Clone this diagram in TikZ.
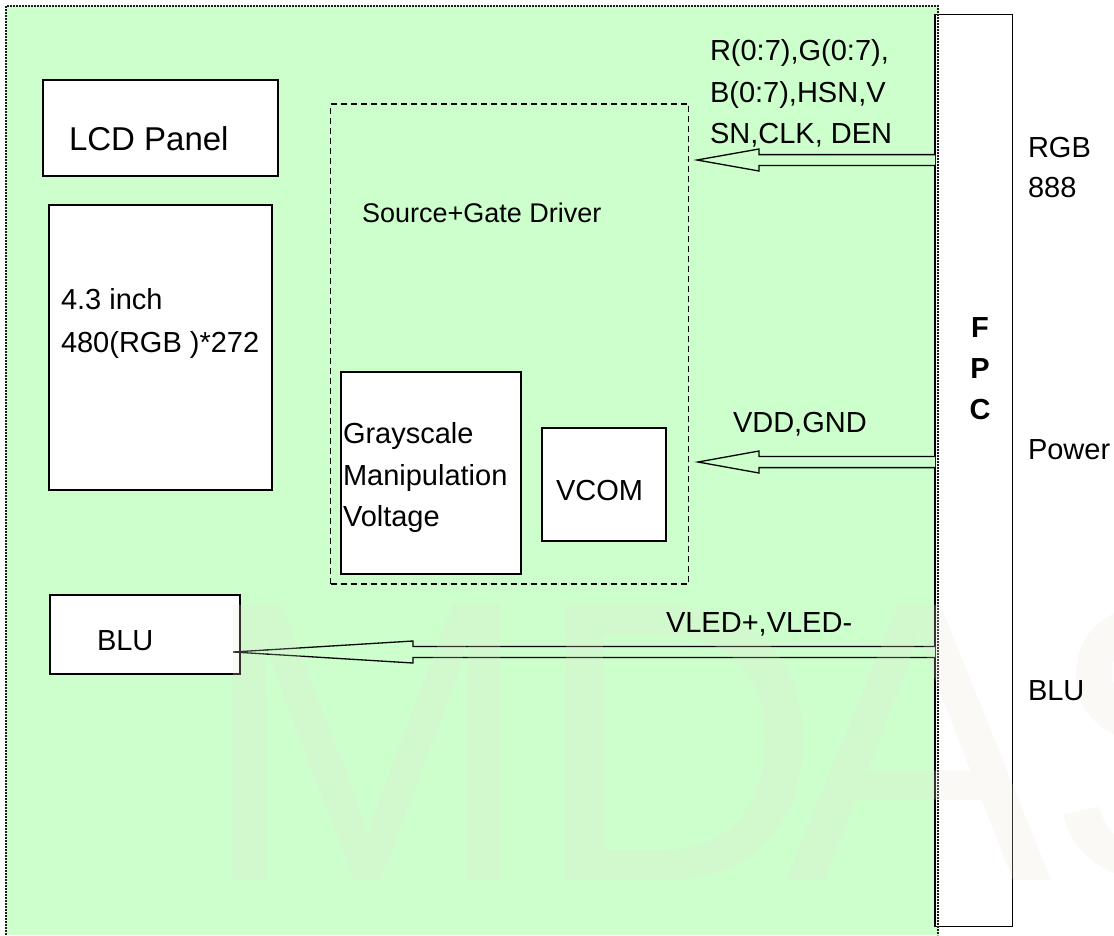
\documentclass[tikz,border=0pt]{standalone}
\usepackage{fontspec}
\setmainfont{Liberation Sans}
\usetikzlibrary{calc}
\definecolor{bggreen}{RGB}{204,255,204}
\definecolor{wmark}{RGB}{235,228,216}
\definecolor{dotgray}{RGB}{30,30,30}
\begin{document}
\begin{tikzpicture}[x=1pt,y=-1pt,
  box/.style={draw=black, line width=1.5pt, fill=white, anchor=north west, inner sep=0pt, outer sep=0pt},
  dbox/.style={draw=black, line width=1.2pt, dash pattern=on 6pt off 4pt, anchor=north west, inner sep=0pt, outer sep=0pt},
  txt/.style={inner sep=0pt, outer sep=0pt, anchor=base west, font=\fontsize{29}{34}\selectfont},
  ctxt/.style={inner sep=0pt, outer sep=0pt, anchor=base, font=\fontsize{29}{34}\selectfont\bfseries},
  arrowshape/.style={draw=black, line width=1.3pt, fill=bggreen, line join=miter},
  border/.style={draw=dotgray, line width=1.7pt, dash pattern=on 1.7pt off 1.3pt},
  wm/.style={inner sep=0pt, outer sep=0pt, anchor=base west, text=wmark, text opacity=0.22, font=\fontsize{400}{400}\selectfont},
]
\useasboundingbox (0,0) rectangle (1114,935);
\fill[bggreen] (6,6) rectangle (938,935);

% boxes
\node[box, minimum width=235pt, minimum height=96pt] (lcd) at (43,80) {};
\node[box, minimum width=223pt, minimum height=285pt] (panel) at (49,205) {};
\node[dbox, minimum width=358pt, minimum height=480pt] (drv) at (330.7,104) {};
\node[box, minimum width=180pt, minimum height=202pt] (gray) at (341,372) {};
\node[box, minimum width=124pt, minimum height=113pt] (vcom) at (542,428) {};
\node[box, minimum width=190pt, minimum height=79pt] (blu) at (50,595) {};
\node[box, minimum width=77.7pt, minimum height=912pt] (fpc) at (935,14.7) {};

% arrows
\coordinate (t1) at (697,160);
\coordinate (t2) at (698,462);
\coordinate (t3) at (233,652);
\draw[arrowshape] ($(fpc.west |- t1)+(0,-5.4)$) -- ($(t1)+(62,-5.4)$) -- ($(t1)+(62,-11)$) -- (t1)
  -- ($(t1)+(62,11)$) -- ($(t1)+(62,5.4)$) -- ($(fpc.west |- t1)+(0,5.4)$);
\draw[arrowshape] ($(fpc.west |- t2)+(0,-5.6)$) -- ($(t2)+(61,-5.6)$) -- ($(t2)+(61,-11)$) -- (t2)
  -- ($(t2)+(61,11)$) -- ($(t2)+(61,5.6)$) -- ($(fpc.west |- t2)+(0,5.6)$);
\draw[arrowshape] ($(fpc.west |- t3)+(0,-5.5)$) -- ($(t3)+(180,-5.5)$) -- ($(t3)+(180,-11)$) -- (t3)
  -- ($(t3)+(180,11)$) -- ($(t3)+(180,5.5)$) -- ($(fpc.west |- t3)+(0,5.5)$);

% dotted outer border
\draw[border] (6,935) -- (6,6) -- (938,6) -- (938,935);

% faint watermark (behind the texts)
\begin{scope}
\clip (0,0) rectangle (1114,935);
\node[wm] (wm1) at (200,880) {M};
\node[wm] (wm2) at (533,880) {D};
\node[wm] (wm3) at (785,880) {A};
\node[wm] (wm4) at (1045,880) {S};
\end{scope}

% texts
\node[txt, font=\fontsize{33}{38}\selectfont] (lcdt) at (69,150) {LCD Panel};
\node[txt] (p1) at (61,309) {4.3 inch};
\node[txt] (p2) at (61,352) {480(RGB )*272};
\node[txt, font=\fontsize{27}{32}\selectfont] (drvt) at (362,222) {Source+Gate Driver};
\node[txt] (g1) at (343,443) {Grayscale};
\node[txt] (g2) at (343,485) {Manipulation};
\node[txt] (g3) at (343,526) {Voltage};
\node[txt] (vt) at (556,500) {VCOM};
\node[txt] (bt) at (97,650) {BLU};
\node[txt] (r1) at (710,60) {R(0:7),G(0:7),};
\node[txt] (r2) at (710,102) {B(0:7),HSN,V};
\node[txt] (r3) at (710,143) {SN,CLK, DEN};
\node[txt] (vdd) at (733,432) {VDD,GND};
\node[txt] (vled) at (666,632) {VLED+,VLED-};
\node[ctxt] (f1) at (980,337) {F};
\node[ctxt] (f2) at (980,378) {P};
\node[ctxt] (f3) at (980,419) {C};
\node[txt] (l1) at (1028,157) {RGB};
\node[txt] (l2) at (1028,197) {888};
\node[txt] (l3) at (1028,459) {Power};
\node[txt] (l4) at (1028,700) {BLU};
\end{tikzpicture}
\end{document}
